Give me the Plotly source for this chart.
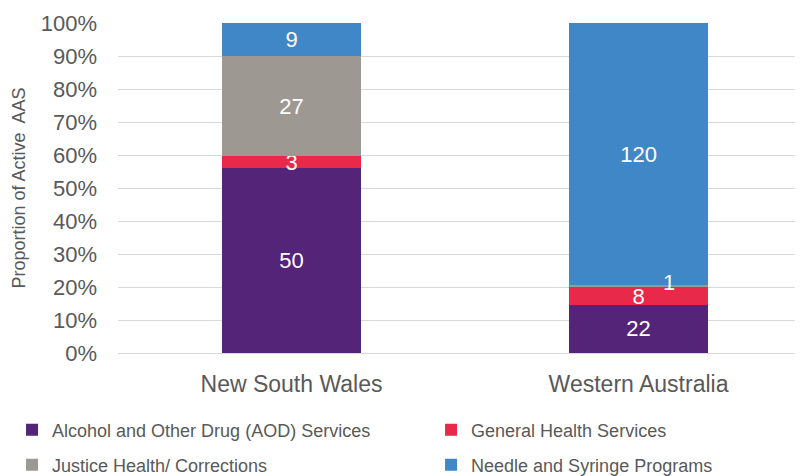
import plotly.graph_objects as go

# Data
states = ["New South Wales", "Western Australia"]
aod = [50, 22]
general = [3, 8]
justice = [27, 1]
nsp = [9, 120]

series = [
    ("Alcohol and Other Drug (AOD) Services", aod, "#532477"),
    ("General Health Services", general, "#E8294A"),
    ("Justice Health/ Corrections", justice, "#9E9893"),
    ("Needle and Syringe Programs", nsp, "#4087C7"),
]

fig = go.Figure()
legend_ids = ["legend", "legend2", "legend3", "legend4"]
for i, (name, vals, col) in enumerate(series):
    # the tiny WA justice segment gets its label as an annotation (offset like the original)
    txt = [str(v) if not (name.startswith("Justice") and j == 1) else "" for j, v in enumerate(vals)]
    fig.add_trace(go.Bar(
        x=states, y=vals, name=name, marker_color=col, marker_line_width=0,
        text=txt, textposition="inside", insidetextanchor="middle", textangle=0,
        textfont=dict(color="white", size=22), legend=legend_ids[i],
        hoverinfo="skip",
    ))

# label for the 1 in WA
tot_wa = sum(v[1] for _, v, _ in series)
fig.add_annotation(x=states[1], y=(aod[1] + general[1] + justice[1] / 2) / tot_wa * 100,
                   text=str(justice[1]), showarrow=False, xshift=30, yshift=4,
                   font=dict(color="white", size=22))

# page body has an 8px margin, so the figure is 8px smaller than the window
fig.update_layout(
    barmode="stack", barnorm="percent", bargap=0.6,
    width=795, height=468,
    margin=dict(l=110, r=0, t=15, b=123, autoexpand=False),
    plot_bgcolor="white", paper_bgcolor="white",
    font=dict(family="Liberation Sans, Arial", color="#595959"),
    uniformtext=dict(minsize=22, mode="show"),
    showlegend=True,
)
leg_pos = [(-0.1547, -0.2333), (0.457, -0.2333), (-0.1547, -0.3394), (0.457, -0.3394)]
for lid, (lx, ly) in zip(legend_ids, leg_pos):
    fig.update_layout({lid: dict(x=lx, y=ly, xanchor="left", yanchor="middle",
                                 font=dict(size=18, color="#595959"),
                                 bgcolor="rgba(0,0,0,0)")})

fig.update_yaxes(range=[0, 100], dtick=10, ticksuffix="%", showgrid=True,
                 gridcolor="#D9D9D9", gridwidth=1, zeroline=False,
                 tickfont=dict(size=22, color="#595959"), ticklabelstandoff=20,
                 title=dict(text="Proportion of Active  AAS", font=dict(size=18, color="#595959"), standoff=10))
fig.update_xaxes(range=[-0.5, 1.474], tickfont=dict(size=23, color="#595959"),
                 showline=True, linecolor="#D9D9D9", ticklabelstandoff=10)

fig.write_html("out.html")
